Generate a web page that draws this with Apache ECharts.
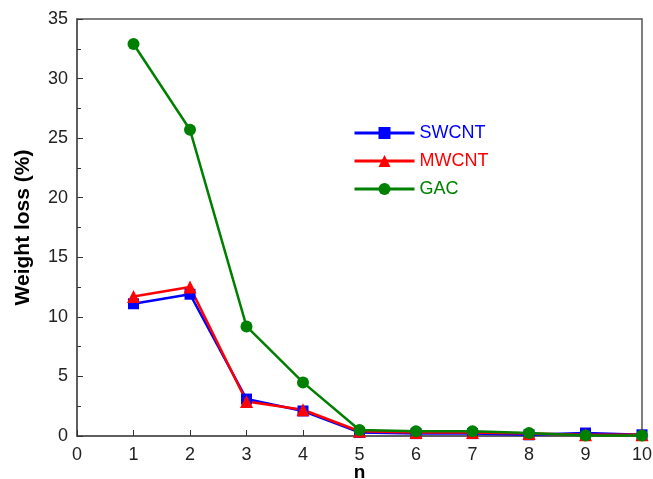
<!DOCTYPE html>
<html>
<head>
<meta charset="utf-8">
<script src="https://cdn.jsdelivr.net/npm/echarts@6/dist/echarts.min.js"></script>
<style>
  html, body { margin: 0; padding: 0; background: #fff; }
  #chart { width: 653px; height: 479px; }
</style>
</head>
<body>
<div id="chart"></div>
<script>
// Cycle number n and weight loss (%) per adsorbent
const cycles = [1, 2, 3, 4, 5, 6, 7, 8, 9, 10];
const swcnt = [11.1, 11.9, 3.1, 2.1, 0.3, 0.2, 0.2, 0.1, 0.25, 0.1];
const mwcnt = [11.7, 12.5, 2.9, 2.2, 0.4, 0.3, 0.3, 0.2, 0.1, 0.1];
const gac   = [32.9, 25.7, 9.2, 4.5, 0.5, 0.4, 0.4, 0.25, 0.05, 0.05];

const pairs = (ys) => cycles.map((x, i) => [x, ys[i]]);

const axisColor = '#555';
const fontFamily = 'Liberation Sans, Arial, sans-serif';

const chart = echarts.init(document.getElementById('chart'));
chart.setOption({
  animation: false,
  textStyle: { fontFamily },
  grid: {
    left: 77, right: 11, top: 19, bottom: 43,
    containLabel: false, outerBoundsMode: 'none',
    show: true, borderColor: axisColor, borderWidth: 1.5
  },
  legend: {
    orient: 'vertical',
    left: 348, top: 119,
    itemWidth: 60, itemHeight: 15, itemGap: 10,
    lineStyle: { width: 3 },
    textStyle: { fontSize: 18, fontFamily },
    data: [
      { name: 'SWCNT', textStyle: { color: '#0000ff' } },
      { name: 'MWCNT', textStyle: { color: '#ff0000' } },
      { name: 'GAC', textStyle: { color: '#008000' } }
    ]
  },
  xAxis: {
    type: 'value', min: 0, max: 10, interval: 1,
    name: 'n', nameLocation: 'middle', nameGap: 27, nameMoveOverlap: false,
    nameTextStyle: { fontSize: 19, fontWeight: 'bold', color: '#000' },
    axisLine: { lineStyle: { color: axisColor, width: 1.5 } },
    axisTick: { inside: true, length: 6, lineStyle: { color: '#333' } },
    axisLabel: { fontSize: 18, color: '#222', margin: 10 },
    splitLine: { show: false }
  },
  yAxis: {
    type: 'value', min: 0, max: 35, interval: 5,
    name: 'Weight loss (%)', nameLocation: 'middle', nameGap: 43, nameMoveOverlap: false,
    nameTextStyle: { fontSize: 21, fontWeight: 'bold', color: '#000' },
    axisLine: { show: true, lineStyle: { color: axisColor, width: 1.5 } },
    axisTick: { inside: true, length: 6, lineStyle: { color: '#333' } },
    minorTick: { show: true, splitNumber: 2, length: 4, lineStyle: { color: '#333' } },
    axisLabel: { fontSize: 18, color: '#222', margin: 9 },
    splitLine: { show: false }
  },
  series: [
    {
      name: 'SWCNT', type: 'line', data: pairs(swcnt),
      symbol: 'rect', symbolSize: 11,
      lineStyle: { color: '#0000ff', width: 2.5 },
      itemStyle: { color: '#0000ff' }
    },
    {
      name: 'MWCNT', type: 'line', data: pairs(mwcnt),
      symbol: 'triangle', symbolSize: 13,
      lineStyle: { color: '#ff0000', width: 2.5 },
      itemStyle: { color: '#ff0000' }
    },
    {
      name: 'GAC', type: 'line', data: pairs(gac),
      symbol: 'circle', symbolSize: 12,
      lineStyle: { color: '#008000', width: 2.5 },
      itemStyle: { color: '#008000' }
    }
  ]
});
</script>
</body>
</html>
